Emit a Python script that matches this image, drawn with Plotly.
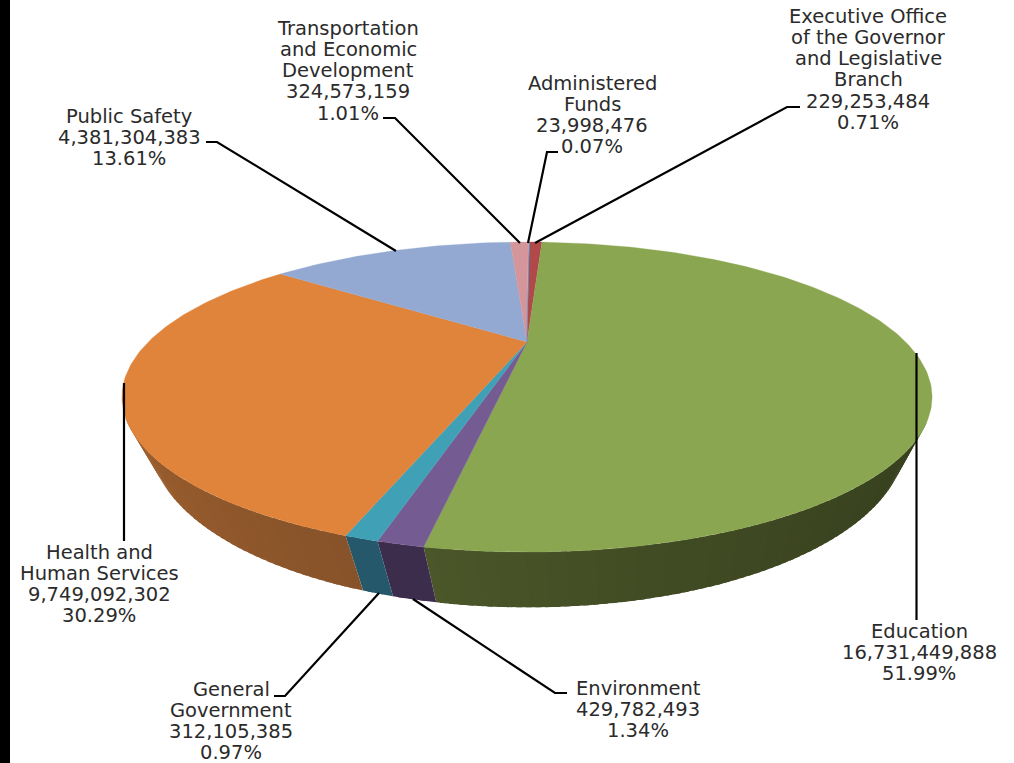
import math
import plotly.graph_objects as go

# ---- data (clockwise from 12 o'clock) ----
categories = ["Executive Office of the Governor and Legislative Branch", "Education", "Environment",
              "General Government", "Health and Human Services", "Public Safety",
              "Transportation and Economic Development", "Administered Funds"]
label_lines = [["Executive Office", "of the Governor", "and Legislative", "Branch"],
               ["Education"], ["Environment"], ["General", "Government"],
               ["Health and", "Human Services"], ["Public Safety"],
               ["Transportation", "and Economic", "Development"], ["Administered", "Funds"]]
values = [229253484, 16731449888, 429782493, 312105385, 9749092302, 4381304383, 324573159, 23998476]
percents = ["0.71%", "51.99%", "1.34%", "0.97%", "30.29%", "13.61%", "1.01%", "0.07%"]

# ---- styles ----
top_colors = ["#b04a4a", "#8aa650", "#745c92", "#40a0b6", "#e0833b", "#93a9d1", "#d4969a", "#4f81bd"]
side_start = ["#6b2c2c", "#343c1c", "#3d2d4d", "#25586a", "#87532a", "#5a6a88", "#8a5c60", "#2f4f78"]
side_end = ["#6b2c2c", "#4b5729", "#3d2d4d", "#25586a", "#bd7034", "#5a6a88", "#8a5c60", "#2f4f78"]
label_cx = [868, 919, 638, 231, 99, 129, 348, 592]
label_y0 = [16, 631, 688, 689, 552, 116, 28, 83]
leaders = [[(800, 107), (787, 107), (535, 243)],
           [(916.5, 353), (916.5, 620)],
           [(567, 693), (555, 693), (413, 599)],
           [(274, 696), (285, 696), (379, 593)],
           [(124, 383), (124, 541)],
           [(206, 142), (217, 142), (396, 251)],
           [(383, 118), (395, 118), (520, 243)],
           [(558, 152), (547, 152), (528, 243)]]
FONT = "DejaVu Sans"
FS = 19.5
LINE_H = 21.3

# perspective disc parameters
TOP = dict(x0=527, y0=342, a=378.7, b=135.5, k=0.355, rot=0.5)
BOT = dict(x0=528, y0=381, a=353.0, b=146.0, k=0.355, rot=0.0)
SIDE_FROM, SIDE_TO = 118.0, 242.0   # only the front of the side wall can be seen


def project(deg, p, r=1.0):
    t = math.radians(deg + p["rot"])
    u, v = r * math.sin(t), r * math.cos(t)
    w = 1 + p["k"] * v
    return p["x0"] + p["a"] * u / w, p["y0"] - p["b"] * v / w


def hex_mix(c1, c2, t):
    a = [int(c1[i:i + 2], 16) for i in (1, 3, 5)]
    b = [int(c2[i:i + 2], 16) for i in (1, 3, 5)]
    return "rgb(%d,%d,%d)" % tuple(round(x + (y - x) * t) for x, y in zip(a, b))


def poly(xs, ys, color, line_w=0.0):
    return go.Scatter(x=xs, y=ys, mode="lines", fill="toself", fillcolor=color,
                      line=dict(color=color, width=line_w), hoverinfo="skip", showlegend=False)


total = sum(values)
edges = [0.0]
for v in values:
    edges.append(edges[-1] + v / total * 360)

fig = go.Figure()

# extruded side, split into short shaded strips that overlap the next one
STEP = 1.0
for i in range(len(values)):
    a0, a1 = edges[i], edges[i + 1]
    lo, hi = max(a0, SIDE_FROM), min(a1, SIDE_TO)
    if hi <= lo:
        continue
    n = max(1, int((hi - lo) / STEP))
    for j in range(n):
        s = lo + (hi - lo) * j / n
        e = lo + (hi - lo) * (j + 1) / n
        # strips overlap towards the side that is drawn later, except at the slice end
        e2 = min(hi, e + STEP * 0.6)
        tp = [project(s, TOP), project(e2, TOP)]
        bt = [project(e2, BOT), project(s, BOT)]
        pts = tp + bt + tp[:1]
        frac = ((s + e) / 2 - a0) / (a1 - a0)
        if i == 1:
            frac = frac ** 4
        fig.add_trace(poly([q[0] for q in pts], [q[1] for q in pts],
                           hex_mix(side_start[i], side_end[i], frac)))

# top face wedges
for i in range(len(values)):
    a0, a1 = edges[i], edges[i + 1]
    n = max(2, int((a1 - a0) / 1.0))
    rim = [project(a0 + (a1 - a0) * j / n, TOP) for j in range(n + 1)]
    pts = [(TOP["x0"], TOP["y0"])] + rim + [(TOP["x0"], TOP["y0"])]
    fig.add_trace(poly([q[0] for q in pts], [q[1] for q in pts], top_colors[i], 0.3))

# leader lines
for seg in leaders:
    fig.add_trace(go.Scatter(x=[q[0] for q in seg], y=[q[1] for q in seg], mode="lines",
                             line=dict(color="#000000", width=2.2), hoverinfo="skip", showlegend=False))

# labels
annotations = []
for i in range(len(values)):
    lines = label_lines[i] + [f"{values[i]:,}", percents[i]]
    for j, txt in enumerate(lines):
        annotations.append(dict(x=label_cx[i], y=label_y0[i] + j * LINE_H, text=txt, showarrow=False,
                                xanchor="center", yanchor="middle",
                                font=dict(family=FONT, size=FS, color="#2b2b2b")))

fig.update_layout(
    width=1014, height=763, margin=dict(l=0, r=0, t=0, b=0),
    paper_bgcolor="#ffffff", plot_bgcolor="#ffffff", showlegend=False,
    xaxis=dict(range=[0, 1014], visible=False, fixedrange=True),
    yaxis=dict(range=[763, 0], visible=False, fixedrange=True),
    annotations=annotations,
    shapes=[dict(type="rect", xref="x", yref="y", x0=0, x1=10, y0=0, y1=763,
                 fillcolor="#000000", line=dict(width=0))],
)
fig.write_html("out.html", config=dict(displayModeBar=False),
               post_script="document.body.style.margin='0';document.body.style.overflow='hidden';")
